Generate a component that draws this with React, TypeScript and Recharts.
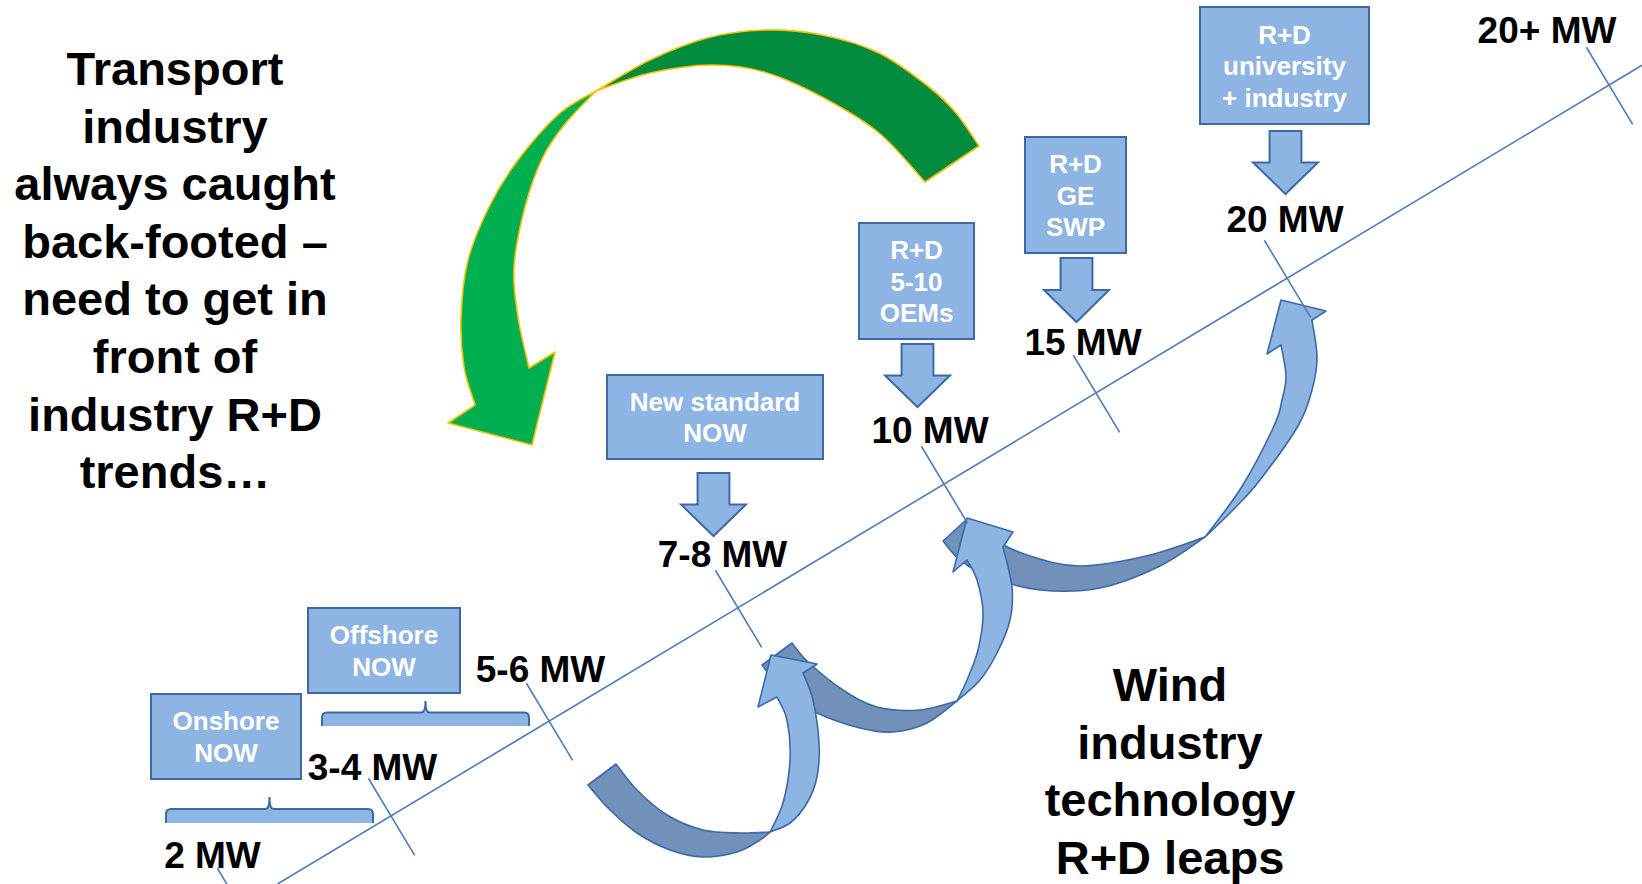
import React from 'react';
import { ScatterChart, Scatter, XAxis, YAxis, ReferenceLine, ReferenceArea } from 'recharts';

const CHART_W = 1642;
const CHART_H = 884;
const FONT = 'Liberation Sans, Arial, Helvetica, sans-serif';

// ---------------- data (diagram units) ----------------
const trendX = [277.5, 1642];
const trendY = [884, 65.3];

const milestoneLabels = ['2 MW', '3-4 MW', '5-6 MW', '7-8 MW', '10 MW', '15 MW', '20 MW', '20+ MW'];
const crossX = [240, 391, 549, 738, 944, 1096, 1287, 1609];
const crossY = [906, 816, 721, 608, 484, 393, 278, 85];
const labelX = [212.5, 372.5, 540.5, 722.5, 930, 1083, 1285, 1547];
const labelY = [868, 780, 682, 567, 443, 355, 232, 43];

const boxLines = [
  ['Onshore', 'NOW'],
  ['Offshore', 'NOW'],
  ['New standard', 'NOW'],
  ['R+D', '5-10', 'OEMs'],
  ['R+D', 'GE', 'SWP'],
  ['R+D', 'university', '+ industry'],
];
const boxX1 = [151, 308, 607, 859, 1025, 1200];
const boxX2 = [301, 460, 823, 974, 1126, 1369];
const boxY1 = [694, 608, 375, 223, 137, 7];
const boxY2 = [779, 693, 459, 339, 253, 124];

const downArrowX1 = [681, 885, 1044, 1253];
const downArrowX2 = [746, 950, 1109, 1318];
const downArrowY1 = [473, 344, 258, 131];
const downArrowY2 = [536, 407, 322, 194];

const bracketX1 = [166, 322];
const bracketX2 = [373, 529];
const bracketY1 = [797, 701];
const bracketY2 = [823, 726];

const leftNote = ['Transport', 'industry', 'always caught', 'back-footed –', 'need to get in', 'front of', 'industry R+D', 'trends…'];
const rightNote = ['Wind', 'industry', 'technology', 'R+D leaps'];
const noteX = [175, 1170];
const noteY = [85, 701];

// ---------------- shape templates (diagram units) ----------------
type Seg = { s?: number[][]; l?: number[][] };

const GREEN_BACK: Seg[] = [
  { s: [[596, 91], [650, 60], [707, 38], [764, 30], [822, 35], [879, 53], [929, 87], [956, 113], [979, 146]] },
  { l: [[925, 182]] },
  { s: [[925, 182], [879, 133], [822, 97], [764, 72], [711, 65], [650, 73], [596, 91]] },
];
const GREEN_FRONT: Seg[] = [
  { s: [[596, 91], [560, 113], [518, 160], [489, 207], [468, 260], [461, 317], [464, 367], [475, 405]] },
  { l: [[448, 423], [532, 445], [555, 352], [529, 368]] },
  { s: [[529, 368], [518, 317], [514, 267], [525, 207], [543, 157], [565, 124], [596, 91]] },
];
const BLUE1_BACK: Seg[] = [
  { s: [[770, 832], [760, 840], [737, 852], [703, 857], [670, 850], [637, 833], [610, 810], [588, 785]] },
  { l: [[616, 764]] },
  { s: [[616, 764], [637, 790], [667, 815], [703, 830], [740, 833], [770, 832]] },
];
const BLUE1_FRONT: Seg[] = [
  { s: [[770, 832], [790, 823], [807, 803], [817, 777], [819, 743], [813, 700], [803, 673]] },
  { l: [[817, 664], [771, 655], [758, 707], [777, 697]] },
  { s: [[777, 697], [787, 720], [790, 760], [783, 803], [770, 832]] },
];
const BLUE2_BACK: Seg[] = [
  { s: [[957, 701], [927, 723], [893, 732], [860, 728], [817, 713], [785, 693], [762, 665]] },
  { l: [[792, 643]] },
  { s: [[792, 643], [808, 662], [843, 690], [877, 707], [920, 710], [957, 701]] },
];
const BLUE2_FRONT: Seg[] = [
  { s: [[957, 701], [980, 680], [997, 653], [1010, 620], [1012, 587], [1003, 547]] },
  { l: [[1013, 532], [967, 518], [953, 572], [967, 560]] },
  { s: [[967, 560], [977, 580], [983, 613], [978, 650], [967, 680], [957, 701]] },
];
const BLUE3_BACK: Seg[] = [
  { s: [[1205, 537], [1160, 566], [1100, 588], [1040, 590], [990, 577], [960, 560], [943, 541]] },
  { l: [[966, 520]] },
  { s: [[966, 520], [990, 538], [1030, 556], [1080, 566], [1146, 556], [1205, 537]] },
];
const BLUE3_FRONT: Seg[] = [
  { s: [[1205, 537], [1233, 510], [1260, 480], [1298, 426], [1312, 390], [1317, 357], [1312, 320]] },
  { l: [[1326, 311], [1281, 300], [1267, 354], [1281, 345]] },
  { s: [[1281, 345], [1286, 376], [1282, 400], [1274, 426], [1241, 488], [1205, 537]] },
];

// ---------------- helpers ----------------
const f = (p: number[]) => `${p[0].toFixed(1)} ${p[1].toFixed(1)}`;

function crSegs(p: number[][]) {
  let d = '';
  for (let i = 0; i < p.length - 1; i++) {
    const p0 = p[i - 1] || p[i];
    const p1 = p[i];
    const p2 = p[i + 1];
    const p3 = p[i + 2] || p[i + 1];
    const c1 = [p1[0] + (p2[0] - p0[0]) / 6, p1[1] + (p2[1] - p0[1]) / 6];
    const c2 = [p2[0] - (p3[0] - p1[0]) / 6, p2[1] - (p3[1] - p1[1]) / 6];
    d += ` C ${f(c1)} ${f(c2)} ${f(p2)}`;
  }
  return d;
}

function buildPath(segs: Seg[], m: (p: number[]) => number[]) {
  let d = '';
  segs.forEach((seg, i) => {
    const pts = (seg.s || seg.l || []).map(m);
    if (i === 0) d += `M ${f(pts[0])}`;
    if (seg.s) d += crSegs(pts);
    else pts.forEach((p, j) => {
      if (!(i === 0 && j === 0)) d += ` L ${f(p)}`;
    });
  });
  return d + ' Z';
}

function rectOf(p: any) {
  const x = Math.min(p.x, p.x + p.width);
  const y = Math.min(p.y, p.y + p.height);
  return { x, y, w: Math.abs(p.width), h: Math.abs(p.height) };
}

function templateArea(key: string, segs: Seg[], fill: string, stroke: string, sw: number) {
  const all = segs.flatMap((s) => s.s || s.l || []);
  const xs = all.map((p) => p[0]);
  const ys = all.map((p) => p[1]);
  const x1 = Math.min(...xs);
  const x2 = Math.max(...xs);
  const y1 = Math.min(...ys);
  const y2 = Math.max(...ys);
  return (
    <ReferenceArea
      key={key}
      x1={x1}
      x2={x2}
      y1={y1}
      y2={y2}
      ifOverflow="visible"
      shape={(p: any) => {
        const r = rectOf(p);
        const m = (pt: number[]) => [r.x + ((pt[0] - x1) / (x2 - x1)) * r.w, r.y + ((pt[1] - y1) / (y2 - y1)) * r.h];
        return <path d={buildPath(segs, m)} fill={fill} stroke={stroke} strokeWidth={sw} strokeLinejoin="round" />;
      }}
    />
  );
}

const BLUE_FILL = '#8EB4E3';
const BLUE_EDGE = '#3D6AA6';
const DARK_FILL = '#7190BA';

export default function App() {
  const dx = trendX[1] - trendX[0];
  const dy = trendY[1] - trendY[0];
  const len = Math.hypot(dx, dy);
  const ux = -dy / len;
  const uy = dx / len;

  const labelData = milestoneLabels.map((t, i) => ({ x: labelX[i], y: labelY[i], t }));
  const noteData = [
    { x: noteX[0], y: noteY[0], lines: leftNote },
    { x: noteX[1], y: noteY[1], lines: rightNote },
  ];

  return (
    <div style={{ position: 'absolute', left: 0, top: 0, width: CHART_W, height: CHART_H, background: '#fff' }}>
      <ScatterChart width={CHART_W} height={CHART_H} margin={{ top: 0, right: 0, bottom: 0, left: 0 }}>
        <XAxis type="number" dataKey="x" domain={[0, CHART_W]} hide allowDataOverflow />
        <YAxis type="number" dataKey="y" domain={[0, CHART_H]} reversed hide allowDataOverflow />

        <ReferenceLine
          segment={[
            { x: trendX[0], y: trendY[0] },
            { x: trendX[1], y: trendY[1] },
          ]}
          stroke="#4A7EBB"
          strokeWidth={1.6}
          ifOverflow="visible"
        />
        {crossX.map((cx, i) => (
          <ReferenceLine
            key={`tick${i}`}
            segment={[
              { x: cx - 44 * ux, y: crossY[i] - 44 * uy },
              { x: cx + 46 * ux, y: crossY[i] + 46 * uy },
            ]}
            stroke="#4A7EBB"
            strokeWidth={1.6}
            ifOverflow="visible"
          />
        ))}

        {boxLines.map((lines, i) => (
          <ReferenceArea
            key={`box${i}`}
            x1={boxX1[i]}
            x2={boxX2[i]}
            y1={boxY1[i]}
            y2={boxY2[i]}
            ifOverflow="visible"
            shape={(p: any) => {
              const r = rectOf(p);
              const cxp = r.x + r.w / 2;
              const cyp = r.y + r.h / 2;
              const n = lines.length;
              return (
                <g>
                  <rect x={r.x} y={r.y} width={r.w} height={r.h} fill={BLUE_FILL} stroke={BLUE_EDGE} strokeWidth={2} />
                  {lines.map((t, j) => (
                    <text
                      key={j}
                      x={cxp}
                      y={cyp + (j - (n - 1) / 2) * 31.5 + 9.5}
                      textAnchor="middle"
                      fill="#ffffff"
                      fontWeight="bold"
                      fontSize={26}
                      fontFamily={FONT}
                    >
                      {t}
                    </text>
                  ))}
                </g>
              );
            }}
          />
        ))}

        {downArrowX1.map((x1, i) => (
          <ReferenceArea
            key={`da${i}`}
            x1={x1}
            x2={downArrowX2[i]}
            y1={downArrowY1[i]}
            y2={downArrowY2[i]}
            ifOverflow="visible"
            shape={(p: any) => {
              const r = rectOf(p);
              const a = r.x + 0.255 * r.w;
              const b = r.x + 0.745 * r.w;
              const mid = r.y + 0.5 * r.h;
              const pts = [
                [a, r.y],
                [b, r.y],
                [b, mid],
                [r.x + r.w, mid],
                [r.x + r.w / 2, r.y + r.h],
                [r.x, mid],
                [a, mid],
              ];
              return <polygon points={pts.map((q) => q.join(',')).join(' ')} fill={BLUE_FILL} stroke={BLUE_EDGE} strokeWidth={2} strokeLinejoin="miter" />;
            }}
          />
        ))}

        {bracketX1.map((x1, i) => (
          <ReferenceArea
            key={`br${i}`}
            x1={x1}
            x2={bracketX2[i]}
            y1={bracketY1[i]}
            y2={bracketY2[i]}
            ifOverflow="visible"
            shape={(p: any) => {
              const r = rectOf(p);
              const x0 = r.x;
              const xr = r.x + r.w;
              const xm = r.x + r.w / 2;
              const yp = r.y;
              const yt = r.y + r.h * 0.46;
              const yb = r.y + r.h;
              const top = `M ${x0} ${yb} L ${x0} ${yt + 5} Q ${x0} ${yt} ${x0 + 5} ${yt} L ${xm - 4} ${yt} Q ${xm} ${yt} ${xm} ${yp} Q ${xm} ${yt} ${xm + 4} ${yt} L ${xr - 5} ${yt} Q ${xr} ${yt} ${xr} ${yt + 5} L ${xr} ${yb}`;
              return (
                <g>
                  <path d={top + ' Z'} fill={BLUE_FILL} stroke="none" />
                  <path d={top} fill="none" stroke={BLUE_EDGE} strokeWidth={2} />
                </g>
              );
            }}
          />
        ))}

        {templateArea('gb', GREEN_BACK, '#008B3E', '#FFC000', 1.6)}
        {templateArea('gf', GREEN_FRONT, '#00B050', '#FFC000', 1.6)}

        {templateArea('b3b', BLUE3_BACK, DARK_FILL, BLUE_EDGE, 1.6)}
        {templateArea('b2b', BLUE2_BACK, DARK_FILL, BLUE_EDGE, 1.6)}
        {templateArea('b1b', BLUE1_BACK, DARK_FILL, BLUE_EDGE, 1.6)}
        {templateArea('b1f', BLUE1_FRONT, BLUE_FILL, BLUE_EDGE, 1.6)}
        {templateArea('b2f', BLUE2_FRONT, BLUE_FILL, BLUE_EDGE, 1.6)}
        {templateArea('b3f', BLUE3_FRONT, BLUE_FILL, BLUE_EDGE, 1.6)}

        <Scatter
          data={labelData}
          isAnimationActive={false}
          shape={(p: any) => (
            <text x={p.cx} y={p.cy} textAnchor="middle" fontSize={37} fontWeight="bold" fill="#000" fontFamily={FONT}>
              {p.payload.t}
            </text>
          )}
        />
        <Scatter
          data={noteData}
          isAnimationActive={false}
          shape={(p: any) => (
            <text x={p.cx} y={p.cy} textAnchor="middle" fontSize={47} fontWeight="bold" fill="#000" fontFamily={FONT}>
              {p.payload.lines.map((l: string, j: number) => (
                <tspan key={j} x={p.cx} dy={j === 0 ? 0 : 57.6}>
                  {l}
                </tspan>
              ))}
            </text>
          )}
        />
      </ScatterChart>
    </div>
  );
}
